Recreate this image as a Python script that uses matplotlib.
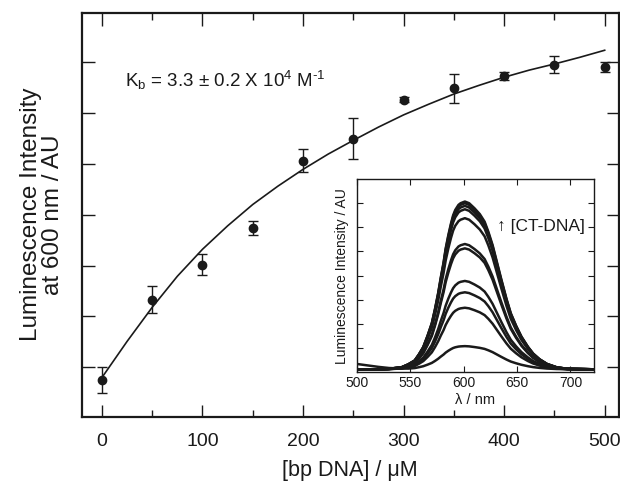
import numpy as np
import matplotlib
matplotlib.use("Agg")
import matplotlib.pyplot as plt

plt.rcParams['font.family'] = ['Liberation Sans', 'DejaVu Sans']
plt.rcParams['mathtext.fontset'] = 'custom'
plt.rcParams['mathtext.rm'] = 'Liberation Sans'
plt.rcParams['mathtext.it'] = 'Liberation Sans:italic'

ink = '#1a1a1a'

# titration: luminescence at 600 nm vs [bp DNA]
dna_conc = [0, 50, 100, 150, 200, 250, 300, 350, 400, 450, 500]
intensity = [0.75, 2.33, 3.02, 3.74, 5.06, 5.49, 6.26, 6.48, 6.73, 6.95, 6.90]
intensity_err = [0.26, 0.26, 0.20, 0.13, 0.23, 0.40, 0.05, 0.28, 0.08, 0.16, 0.09]

# fitted binding curve
fit_conc = [0, 25, 50, 75, 100, 125, 150, 175, 200, 225, 250, 275, 300,
            325, 350, 375, 400, 425, 450, 475, 500]
fit_int = [0.80, 1.51, 2.18, 2.79, 3.32, 3.78, 4.20, 4.56, 4.89, 5.19, 5.46,
           5.72, 5.96, 6.17, 6.37, 6.54, 6.70, 6.84, 6.96, 7.09, 7.23]

# inset: emission spectra, shared band shape and peak heights
wavelength = [500, 520, 530, 542, 548, 554, 558, 562, 566, 570, 573, 576,
              578.5, 581, 583, 585.5, 588, 590, 592, 595, 597, 601, 605, 610,
              615, 619.5, 623, 627, 631, 635, 640, 644, 649, 654, 660, 665,
              671, 678, 687, 697, 722]
band_shape = [0, 0, 0.003, 0.013, 0.03, 0.053, 0.09, 0.133, 0.20, 0.275,
              0.36, 0.456, 0.55, 0.636, 0.72, 0.80, 0.87, 0.918, 0.95, 0.98,
              0.99, 1.0, 0.99, 0.96, 0.925, 0.88, 0.82, 0.74, 0.64, 0.54,
              0.42, 0.335, 0.26, 0.195, 0.135, 0.094, 0.06, 0.032, 0.012,
              0.003, 0]
free_tail = [0.22, 0.10, 0.05, 0.02] + [0] * 37
peak_heights = [0.96, 2.55, 3.19, 3.66, 5.01, 5.19, 6.26, 6.63, 6.77, 6.88, 6.95]
baseline = 0.12

fig = plt.figure(figsize=(6.2, 4.84), dpi=100)
ax = fig.add_axes([0.132, 0.139, 0.866, 0.835])

ax.plot(fit_conc, fit_int, color=ink, lw=1.2)
ax.errorbar(dna_conc, intensity, yerr=intensity_err, fmt='o', color=ink,
            ms=6, elinewidth=1.0, capsize=3.5, capthick=1.0)

ax.set_xlim(-20, 514)
ax.set_ylim(0.03, 7.97)
ax.set_xticks([0, 100, 200, 300, 400, 500])
ax.set_xticks([50, 150, 250, 350, 450], minor=True)
ax.set_yticks([1, 2, 3, 4, 5, 6, 7])
ax.set_yticklabels([])
ax.tick_params(which='both', direction='in', top=True, right=True,
               color=ink, width=1.0)
ax.tick_params(which='major', length=9, labelsize=14, pad=12, labelcolor=ink)
ax.tick_params(which='minor', length=5)
for s in ax.spines.values():
    s.set_linewidth(1.6)
    s.set_color(ink)

ax.set_xlabel('[bp DNA] / μM', fontsize=15.5, color=ink, labelpad=7)
ax.set_ylabel('Luminescence Intensity\nat 600 nm / AU', fontsize=17.5,
              color=ink, linespacing=0.95)
ax.yaxis.set_label_coords(-0.034, 0.5)

ax.text(23, 6.5, r'K$_\mathrm{b}$ = 3.3 ± 0.2 X 10$^\mathrm{4}$ M$^{\text{-1}}$',
        fontsize=13.5, color=ink, va='baseline')

# inset
ins = fig.add_axes([0.576, 0.231, 0.382, 0.399])
for i, h in enumerate(peak_heights):
    spec = [baseline + h * b for b in band_shape]
    if i == 0:
        spec = [v + t for v, t in zip(spec, free_tail)]
    ins.plot(wavelength, spec, color=ink, lw=1.8)

ins.set_xlim(500, 722)
ins.set_ylim(0, 8)
ins.set_xticks([500, 550, 600, 650, 700])
ins.set_yticks([1, 2, 3, 4, 5, 6, 7])
ins.set_yticklabels([])
ins.tick_params(direction='in', top=True, right=True, length=4, width=0.8,
                labelsize=10, pad=3, color=ink, labelcolor=ink)
for s in ins.spines.values():
    s.set_linewidth(1.0)
    s.set_color(ink)
ins.set_xlabel('λ / nm', fontsize=10.5, color=ink, labelpad=2)
ins.set_ylabel('Luminescence Intensity / AU', fontsize=10, color=ink,
               labelpad=3)
ins.text(0.59, 0.755, '↑ [CT-DNA]', transform=ins.transAxes, fontsize=12.5,
         color=ink, va='center')

fig.savefig('out.png', dpi=100)
